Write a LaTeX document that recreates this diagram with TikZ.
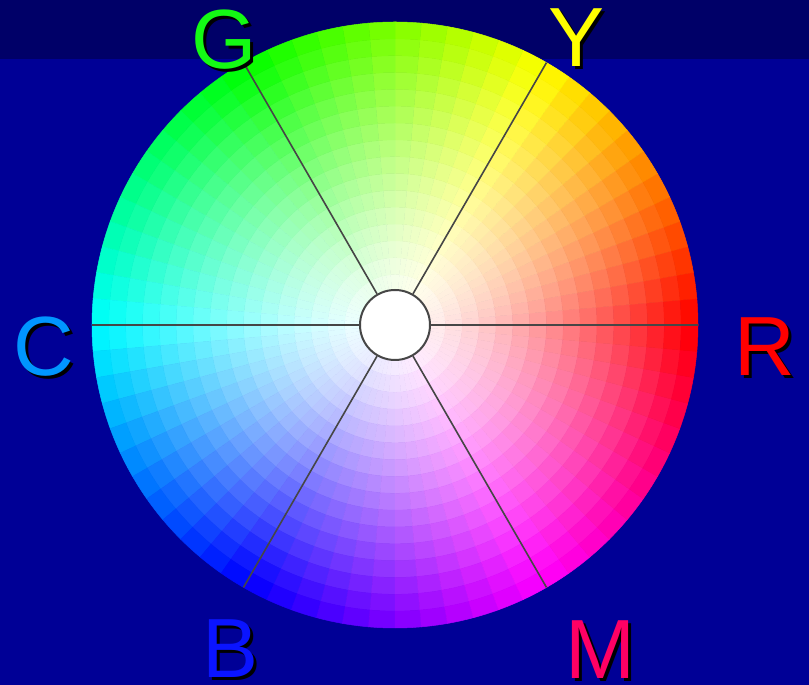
\documentclass[tikz,border=0pt]{standalone}
\usepackage{fontspec}
\setmainfont{Liberation Sans}
\usetikzlibrary{positioning}

\definecolor{bgblue}{RGB}{0,0,150}
\definecolor{bandblue}{RGB}{0,0,104}
\definecolor{spokegray}{RGB}{70,70,70}
\definecolor{labG}{RGB}{20,250,20}
\definecolor{labY}{RGB}{255,255,0}
\definecolor{labC}{RGB}{0,150,255}
\definecolor{labR}{RGB}{255,0,0}
\definecolor{labB}{RGB}{10,20,255}
\definecolor{labM}{RGB}{255,0,100}

\begin{document}
\begin{tikzpicture}[x=1pt, y=1pt,
    letter/.style={font=\fontsize{84}{84}\selectfont, inner sep=0pt},
    spoke/.style={draw=spokegray, line width=1.6pt},
    hub/.style={circle, draw=spokegray, line width=2pt, fill=white,
                minimum size=70pt, inner sep=0pt},
]
    % Background
    \useasboundingbox (0,0) rectangle (809,685);
    \fill[bgblue] (0,0) rectangle (809,685);
    \fill[bandblue] (0,626) rectangle (809,685);

    % Colour wheel
    \begin{scope}[shift={(395,360)}]
    \foreach \i in {0,...,71} {
      \foreach \j in {1,...,18} {
        \pgfmathsetmacro\hh{(\i*5+2.5)/360}
        \pgfmathsetmacro\ss{min(1,((\j-0.5)/18)^1.3*1.05)}
        \definecolor{seg}{hsb}{\hh,\ss,1}
        \pgfmathsetmacro\ri{max(0.1,(\j-1)*303/18)}
        \pgfmathsetmacro\ro{\j*303/18}
        \filldraw[seg, line width=0.5pt] (\i*5:\ri pt)
            arc[start angle=\i*5, end angle=\i*5+5, radius=\ri pt]
            -- (\i*5+5:\ro pt)
            arc[start angle=\i*5+5, end angle=\i*5, radius=\ro pt] -- cycle;
      }
    }
    \end{scope}

    % Hub and spokes
    \node[hub] (hub) at (395,360) {};
    \foreach \a in {0,60,...,300} {
      \path (hub.center) ++(\a:303pt) coordinate (rim\a);
      \draw[spoke] (hub.\a) -- (rim\a);
    }

    % Labels
    \foreach \name/\px/\py/\col in {G/224/645/labG, Y/577/647/labY,
        C/44/338/labC, R/765/338/labR, B/231/36/labB, M/600/35/labM} {
      \node[letter, text=black] (\name shadow) at (\px+3,\py-3) {\name};
      \node[letter, text=\col] (\name) at (\px,\py) {\name};
    }
\end{tikzpicture}
\end{document}
